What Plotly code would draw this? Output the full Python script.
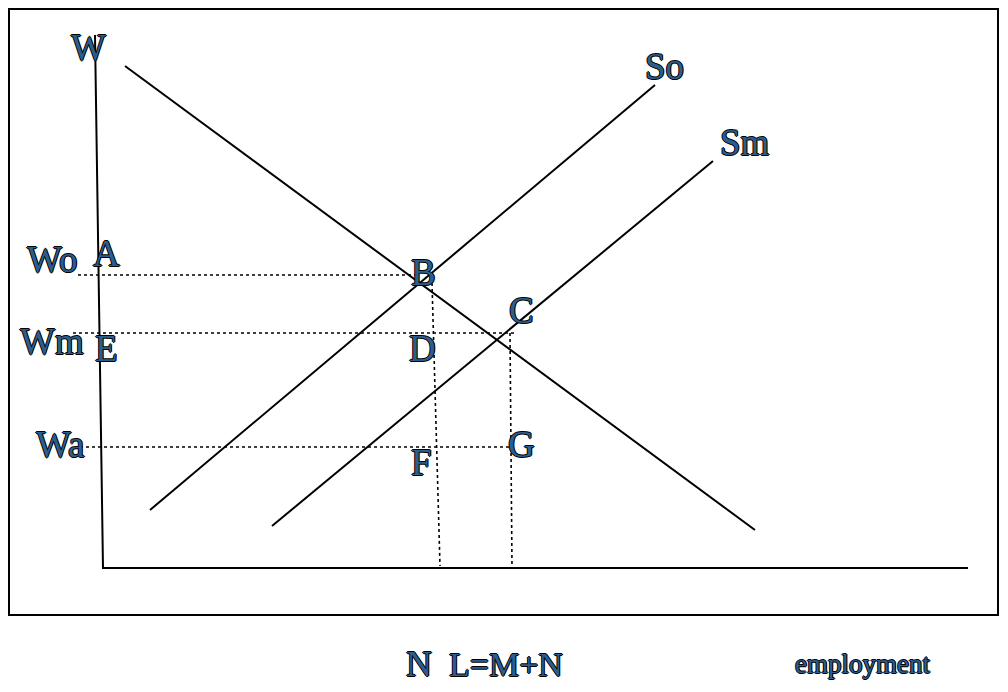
import plotly.graph_objects as go

# diagram frame: x = employment, y = wage (origin of the axes at 103, 124)
axis_x = [95, 103, 968]
axis_y = [657, 124, 124]

demand_x = [125, 755]
demand_y = [626, 162]

so_x = [150, 655]
so_y = [182, 607]

sm_x = [272, 713]
sm_y = [166, 531]

wage_names = ["Wo", "Wm", "Wa"]
wage_levels = [417, 359, 245]
wage_ends = [418, 515, 512]
wage_starts = [78, 73, 80]

emp_names = ["N", "L=M+N"]
emp_top = [432, 510]
emp_bottom = [440, 512]
emp_from = [409, 359]

point_names = ["A", "B", "C", "D", "E", "F", "G"]
point_x = [106, 423, 521, 422, 106, 421, 521]
point_y = [439, 420, 382, 344, 344, 230, 248]

fig = go.Figure()

line = dict(color="black", width=2)
dot = dict(color="black", width=1.6, dash="dot")

fig.add_trace(go.Scatter(x=axis_x, y=axis_y, mode="lines", line=line))
fig.add_trace(go.Scatter(x=demand_x, y=demand_y, mode="lines", line=line))
fig.add_trace(go.Scatter(x=so_x, y=so_y, mode="lines", line=line))
fig.add_trace(go.Scatter(x=sm_x, y=sm_y, mode="lines", line=line))

for x0, x1, w in zip(wage_starts, wage_ends, wage_levels):
    fig.add_trace(go.Scatter(x=[x0, x1], y=[w, w], mode="lines", line=dot))
for xt, xb, y0 in zip(emp_top, emp_bottom, emp_from):
    fig.add_trace(go.Scatter(x=[xt, xb], y=[y0, 126], mode="lines", line=dot))

outline = "1px 0 0 #000, -1px 0 0 #000, 0 1px 0 #000, 0 -1px 0 #000"
label_font = dict(family="Liberation Serif", size=37, color="#2c5d8c", shadow=outline)


def label(text, x, y, size=37):
    f = dict(label_font)
    f["size"] = size
    fig.add_annotation(x=x, y=y, text=text, showarrow=False, font=f,
                       xanchor="center", yanchor="middle")


label("W", 88, 645)
label("So", 664, 626)
label("Sm", 745, 550)
for name, w, xc in zip(wage_names, wage_levels, [52, 52, 60]):
    label(name, xc, w + {"Wo": 16, "Wm": -8, "Wa": 3}[name])
for name, x, y in zip(point_names, point_x, point_y):
    label(name, x, y)
label(emp_names[0], 419, 28, size=36)
label(emp_names[1], 506, 28, size=34)
label("employment", 862, 28, size=27)

# frame around the diagram
fig.add_shape(type="rect", x0=9, x1=998, y0=77, y1=683,
              line=dict(color="black", width=2))

# the page body keeps an 8px margin, so the figure starts at (8, 8)
fig.update_layout(
    width=992, height=676,
    margin=dict(l=0, r=0, t=0, b=0),
    paper_bgcolor="white", plot_bgcolor="white",
    showlegend=False,
    xaxis=dict(range=[8, 1000], visible=False),
    yaxis=dict(range=[8, 684], visible=False),
)

fig.write_html("out.html")
